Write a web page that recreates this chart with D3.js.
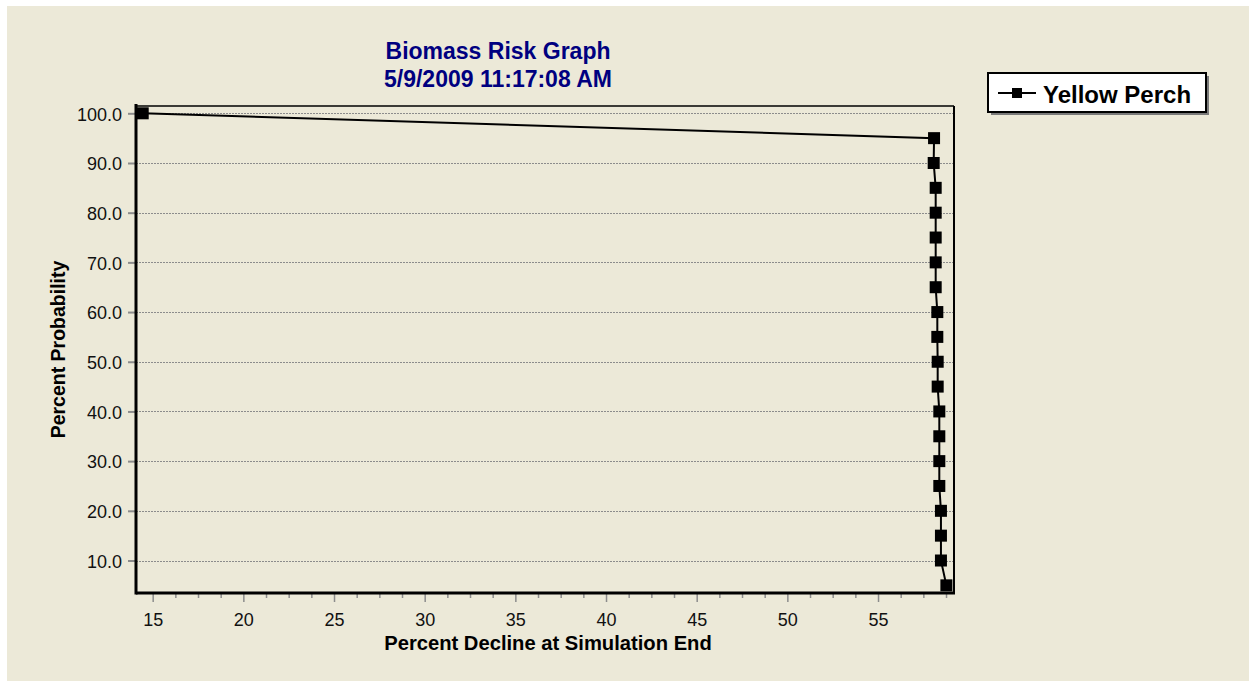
<!DOCTYPE html>
<html><head><meta charset="utf-8">
<script src="https://cdn.jsdelivr.net/npm/d3@7"></script>
<style>
html,body{margin:0;padding:0;background:#fff;overflow:hidden;}
svg{display:block;font-family:Arial,"Liberation Sans",sans-serif;}
</style></head><body>
<svg id="chart" width="1249" height="681"></svg>
<script>
// ---- data ----
const titleLines = ["Biomass Risk Graph", "5/9/2009 11:17:08 AM"];
const seriesName = "Yellow Perch";
const probability = [100, 95, 90, 85, 80, 75, 70, 65, 60, 55, 50, 45, 40, 35, 30, 25, 20, 15, 10, 5];
const decline = [14.45, 58.09, 58.07, 58.18, 58.18, 58.18, 58.18, 58.18, 58.27, 58.27, 58.29, 58.29, 58.38, 58.38, 58.38, 58.38, 58.47, 58.47, 58.47, 58.77];
const yTickValues = [10, 20, 30, 40, 50, 60, 70, 80, 90, 100];
const xTickValues = [15, 20, 25, 30, 35, 40, 45, 50, 55];
const xTitle = "Percent Decline at Simulation End";
const yTitle = "Percent Probability";

// ---- layout ----
const svg = d3.select("#chart");
const W = 1249, H = 681;
const plot = {left: 136, right: 954, top: 106, bottom: 593};

svg.append("rect").attr("x", 0).attr("y", 0).attr("width", W).attr("height", H).attr("fill", "#ffffff");
svg.append("rect").attr("x", 7).attr("y", 6).attr("width", W - 7).attr("height", H - 6).attr("fill", "#ECE9D8");

const x = d3.scaleLinear().domain([14.08, 59.19]).range([plot.left, plot.right]);
const y = d3.scaleLinear().domain([3.46, 101.47]).range([plot.bottom, plot.top]);

// gridlines
svg.append("g").selectAll("line").data(yTickValues).join("line")
  .attr("x1", plot.left).attr("x2", plot.right)
  .attr("y1", d => Math.round(y(d)) + 0.5).attr("y2", d => Math.round(y(d)) + 0.5)
  .attr("stroke", "#8c8c8c").attr("stroke-width", 1.2).attr("stroke-dasharray", "2,1");

// y axis ticks & labels
const yAxis = d3.axisLeft(y).tickValues(yTickValues).tickSize(8).tickPadding(6).tickFormat(d3.format(".1f"));
const gy = svg.append("g").attr("transform", `translate(${plot.left},0)`).call(yAxis);
gy.select(".domain").remove();
gy.selectAll(".tick line").attr("stroke", "#8c8c8c").attr("stroke-width", 2);
gy.selectAll(".tick text").attr("font-size", 18).attr("fill", "#111").attr("font-family", "Arial, 'Liberation Sans', sans-serif").attr("dy", "0.38em");

// x axis major ticks & labels
const xAxis = d3.axisBottom(x).tickValues(xTickValues).tickSize(9).tickPadding(11).tickFormat(d3.format("d"));
const gx = svg.append("g").attr("transform", `translate(0,${plot.bottom})`).call(xAxis);
gx.select(".domain").remove();
gx.selectAll(".tick line").attr("stroke", "#8c8c8c").attr("stroke-width", 1.5);
gx.selectAll(".tick text").attr("font-size", 18).attr("fill", "#111").attr("font-family", "Arial, 'Liberation Sans', sans-serif");

// x minor ticks
const minorTicks = d3.range(15, 59.19, 1.25).filter(v => Math.abs(v / 5 - Math.round(v / 5)) > 1e-6);
const xMinor = d3.axisBottom(x).tickValues(minorTicks).tickSize(5).tickFormat("");
const gxm = svg.append("g").attr("transform", `translate(0,${plot.bottom})`).call(xMinor);
gxm.select(".domain").remove();
gxm.selectAll(".tick line").attr("stroke", "#8c8c8c").attr("stroke-width", 1.5);

// frame
svg.append("line").attr("x1", plot.left).attr("x2", plot.right).attr("y1", plot.top).attr("y2", plot.top)
  .attr("stroke", "#000").attr("stroke-width", 1.5);
svg.append("line").attr("x1", plot.right).attr("x2", plot.right).attr("y1", plot.top).attr("y2", plot.bottom)
  .attr("stroke", "#000").attr("stroke-width", 2);
svg.append("line").attr("x1", plot.left).attr("x2", plot.left).attr("y1", plot.top - 2).attr("y2", plot.bottom + 1.5)
  .attr("stroke", "#000").attr("stroke-width", 3);
svg.append("line").attr("x1", plot.left).attr("x2", plot.right + 1).attr("y1", plot.bottom).attr("y2", plot.bottom)
  .attr("stroke", "#000").attr("stroke-width", 3);

// series
const pts = probability.map((p, i) => ({x: decline[i], y: p}));
const line = d3.line().x(d => x(d.x)).y(d => y(d.y));
svg.append("path").datum(pts).attr("d", line).attr("fill", "none").attr("stroke", "#000").attr("stroke-width", 2);
const ms = 12;
svg.append("g").selectAll("rect").data(pts).join("rect")
  .attr("x", d => x(d.x) - ms / 2).attr("y", d => y(d.y) - ms / 2)
  .attr("width", ms).attr("height", ms).attr("fill", "#000");

// titles
const title = svg.append("text").attr("text-anchor", "middle").attr("fill", "#000080")
  .attr("font-weight", "bold").attr("font-size", 23);
title.selectAll("tspan").data(titleLines).join("tspan")
  .attr("x", 498).attr("y", (d, i) => 59 + i * 28).text(d => d);

svg.append("text").attr("x", (plot.left + plot.right) / 2 + 3).attr("y", 650)
  .attr("text-anchor", "middle").attr("font-weight", "bold").attr("font-size", 20.2).attr("fill", "#000")
  .text(xTitle);
svg.append("text").attr("transform", `translate(65,${(plot.top + plot.bottom) / 2}) rotate(-90)`)
  .attr("text-anchor", "middle").attr("font-weight", "bold").attr("font-size", 19.5).attr("fill", "#000")
  .text(yTitle);

// legend
const lg = {x: 988, y: 73, w: 218, h: 39};
svg.append("rect").attr("x", lg.x + 3).attr("y", lg.y + 3).attr("width", lg.w).attr("height", lg.h).attr("fill", "#7a7a7a");
svg.append("rect").attr("x", lg.x).attr("y", lg.y).attr("width", lg.w).attr("height", lg.h)
  .attr("fill", "#fff").attr("stroke", "#000").attr("stroke-width", 2);
svg.append("line").attr("x1", lg.x + 10).attr("x2", lg.x + 48).attr("y1", lg.y + 20).attr("y2", lg.y + 20)
  .attr("stroke", "#000").attr("stroke-width", 2);
svg.append("rect").attr("x", lg.x + 29 - 5).attr("y", lg.y + 20 - 5).attr("width", 10).attr("height", 10).attr("fill", "#000");
svg.append("text").attr("x", lg.x + 55).attr("y", lg.y + 30).attr("font-weight", "bold").attr("font-size", 24)
  .attr("fill", "#000").text(seriesName);
</script>
</body></html>
